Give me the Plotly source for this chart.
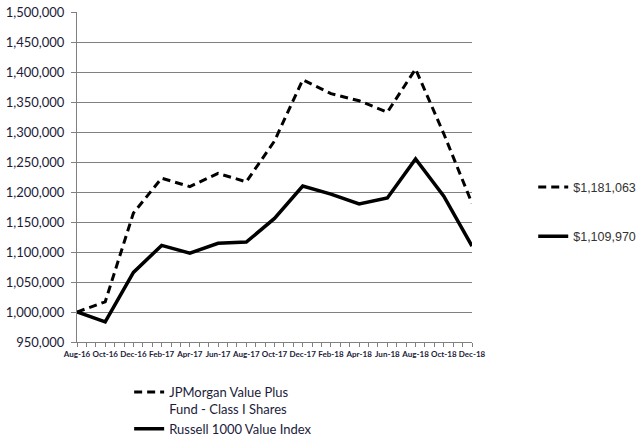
import plotly.graph_objects as go

dates = ["Aug-16", "Oct-16", "Dec-16", "Feb-17", "Apr-17", "Jun-17", "Aug-17", "Oct-17",
         "Dec-17", "Feb-18", "Apr-18", "Jun-18", "Aug-18", "Oct-18", "Dec-18"]
fund = [1000000, 1017000, 1165000, 1223000, 1209000, 1231000, 1217000, 1285000,
        1387000, 1364000, 1352000, 1333000, 1405000, 1297000, 1181063]
index = [1000000, 983500, 1066000, 1111000, 1098000, 1114500, 1116500, 1156000,
         1210000, 1196500, 1180000, 1190000, 1255000, 1193000, 1109970]
fund_name = "JPMorgan Value Plus<br>Fund - Class I Shares"
index_name = "Russell 1000 Value Index"

x = list(range(len(dates)))
dash = "8px,5px"

fig = go.Figure()
fig.add_trace(go.Scatter(x=x, y=fund, mode="lines", name=fund_name,
                         line=dict(color="black", width=3, dash=dash), legendgroup="a"))
fig.add_trace(go.Scatter(x=x, y=index, mode="lines", name=index_name,
                         line=dict(color="black", width=3.5), legendgroup="b"))

# ending values shown at the right
fig.add_trace(go.Scatter(x=[None], y=[None], mode="lines", name="${:,}".format(fund[-1]),
                         line=dict(color="black", width=3, dash=dash),
                         legend="legend2", legendgroup="c"))
fig.add_trace(go.Scatter(x=[None], y=[None], mode="lines", name="${:,}".format(index[-1]),
                         line=dict(color="black", width=3.5),
                         legend="legend2", legendgroup="d"))

fig.update_xaxes(
    range=[0, len(dates) - 1],
    tickvals=x, ticktext=dates, tickangle=0,
    ticks="outside", ticklen=4, tickcolor="#808080",
    minor=dict(dtick=1 / 3, ticks="outside", ticklen=4, tickcolor="#808080"),
    showline=True, linecolor="#808080", linewidth=1,
    showgrid=False, zeroline=False, automargin=False,
    tickfont=dict(family="Lato", size=8, color="#1b1b3a", weight="bold"),
)
fig.update_yaxes(
    range=[950000, 1500000], dtick=50000,
    tickformat=",d",
    ticks="outside", ticklen=5, tickcolor="#808080", ticklabelstandoff=4,
    showline=True, linecolor="#808080", linewidth=1,
    gridcolor="#808080", gridwidth=1, zeroline=False, automargin=False,
    tickfont=dict(family="Lato", size=13, color="#1b1b3a"),
)

fig.update_layout(
    width=643, height=439,
    margin=dict(l=77, r=171, t=12, b=97, autoexpand=False),
    plot_bgcolor="white", paper_bgcolor="white",
    showlegend=True,
    legend=dict(x=0.132, y=-0.106, xanchor="left", yanchor="top",
                font=dict(family="Lato", size=13, color="#1b1b3a"),
                valign="top", tracegroupgap=0, itemwidth=30, bgcolor="rgba(0,0,0,0)"),
    legend2=dict(x=1.155, y=0.514, xanchor="left", yanchor="top",
                 font=dict(family="Liberation Sans", size=12.5, color="#333333"),
                 tracegroupgap=30, itemwidth=30, bgcolor="rgba(0,0,0,0)"),
)

# drop the default 8px page margin so the figure fills the window
fig.write_html("out.html", config={"displayModeBar": False},
               post_script="document.body.style.margin = '0';")
